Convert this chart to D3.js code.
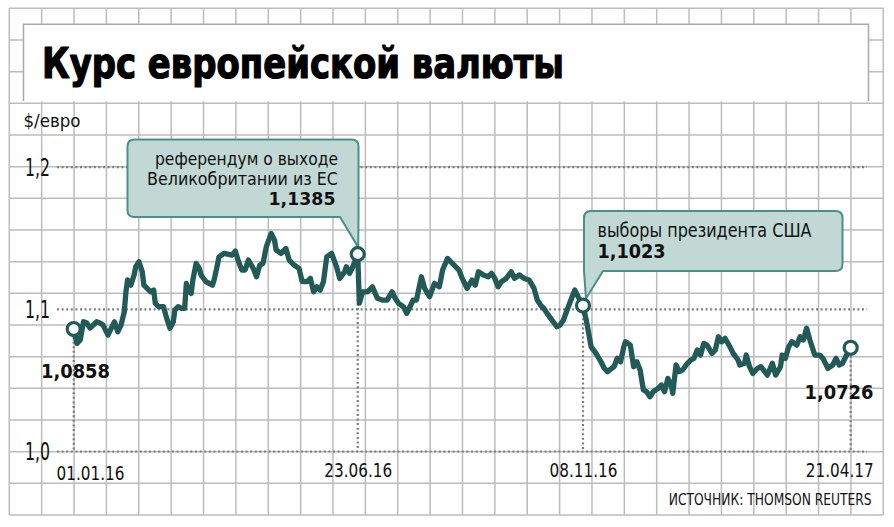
<!DOCTYPE html>
<html><head><meta charset="utf-8">
<script src="https://cdn.jsdelivr.net/npm/d3@7"></script>
<style>
html,body{margin:0;padding:0;background:#fff;}
svg{display:block;}
text{font-family:"Liberation Sans Narrow","DejaVu Sans Condensed","Roboto",sans-serif;}
</style></head>
<body>
<svg id="c" width="894" height="527"></svg>
<script>
// ---- data (days since 01.01.2016, EUR/USD rate) ----
const startDate = "2016-01-01";
const dayOffsets = [
  0,2,4,6,8,10,12,14,16,18,
  21,23,25,27,29,31,32,33,35,37,
  38,40,42,43,45,47,49,50,52,55,
  57,59,61,62,64,66,68,69,70,72,
  73,75,77,78,81,85,86,88,89,92,
  95,97,99,101,103,105,107,110,112,114,
  116,118,121,123,124,127,130,132,135,138,
  140,143,145,147,149,151,153,155,158,161,
  163,166,167,169,171,174,175,177,180,183,
  186,189,192,195,197,199,202,204,206,208,
  210,213,215,218,221,224,226,229,233,236,
  238,241,244,246,248,251,254,256,258,260,
  262,265,268,270,273,276,279,282,284,286,
  288,290,293,296,298,300,303,305,307,309,
  312,314,317,320,323,325,327,331,333,335,
  337,338,341,343,345,347,349,351,353,355,
  358,360,362,364,366,367,369,371,373,376,
  378,380,382,384,386,388,391,393,395,397,
  399,402,404,407,408,411,412,414,416,419,
  421,425,428,430,433,434,436,438,440,443,
  445,447,449,451,454,457,459,462,465,467,
  469,471,474,476];
const rates = [
  1.0858,1.0757,1.0781,1.0909,1.0900,1.0865,1.0886,1.0909,1.0900,1.0886,
  1.0816,1.0863,1.0909,1.0839,1.0886,1.0980,1.1120,1.1203,1.1167,1.1238,
  1.1296,1.1331,1.1261,1.1167,1.1144,1.1120,1.1132,1.1039,1.1015,1.1015,
  1.0933,1.0863,1.0909,1.0992,1.1015,1.1004,1.1004,1.1179,1.1132,1.1109,
  1.1203,1.1320,1.1285,1.1238,1.1191,1.1167,1.1203,1.1308,1.1366,1.1390,
  1.1383,1.1378,1.1406,1.1331,1.1273,1.1273,1.1343,1.1285,1.1226,1.1308,
  1.1320,1.1437,1.1531,1.1484,1.1414,1.1390,1.1425,1.1343,1.1308,1.1285,
  1.1191,1.1191,1.1214,1.1120,1.1155,1.1132,1.1191,1.1366,1.1390,1.1296,
  1.1214,1.1261,1.1296,1.1250,1.1296,1.1385,1.1040,1.1120,1.1120,1.1155,
  1.1074,1.1062,1.1062,1.1120,1.1074,1.1039,1.1015,1.0968,1.1015,1.1062,
  1.1062,1.1226,1.1144,1.1085,1.1179,1.1155,1.1273,1.1355,1.1308,1.1273,
  1.1214,1.1144,1.1203,1.1167,1.1261,1.1238,1.1226,1.1250,1.1214,1.1155,
  1.1191,1.1214,1.1261,1.1214,1.1238,1.1214,1.1203,1.1144,1.1062,1.1027,
  1.1004,1.0968,1.0921,1.0874,1.0886,1.0921,1.1015,1.1074,1.1132,1.1085,
  1.1023,1.0921,1.0733,1.0687,1.0628,1.0582,1.0558,1.0593,1.0652,1.0628,
  1.0733,1.0769,1.0745,1.0593,1.0628,1.0570,1.0429,1.0417,1.0382,1.0417,
  1.0441,1.0464,1.0417,1.0511,1.0464,1.0406,1.0605,1.0558,1.0570,1.0617,
  1.0640,1.0652,1.0710,1.0675,1.0757,1.0745,1.0687,1.0710,1.0804,1.0769,
  1.0793,1.0733,1.0687,1.0640,1.0605,1.0617,1.0675,1.0593,1.0546,1.0582,
  1.0593,1.0534,1.0617,1.0534,1.0593,1.0675,1.0652,1.0733,1.0769,1.0745,
  1.0804,1.0781,1.0863,1.0781,1.0675,1.0675,1.0652,1.0582,1.0605,1.0652,
  1.0605,1.0617,1.0687,1.0726];

const markerDays = [0,174,312,476];
const markerValues = [1.0858,1.1385,1.1023,1.0726];
const markerLabels = ["1,0858","1,1385","1,1023","1,0726"];

const yTicks = [1.0,1.1,1.2];
const yTickLabels = ["1,0","1,1","1,2"];
const dateTicks = ["2016-01-01","2016-06-23","2016-11-08","2017-04-21"];
const dateTickLabels = ["01.01.16","23.06.16","08.11.16","21.04.17"];

const titleText = "Курс европейской валюты";
const unitText = "$/евро";
const sourceText = "ИСТОЧНИК: THOMSON REUTERS";
const brexitLines = ["референдум о выходе","Великобритании из ЕС"];
const electionLines = ["выборы президента США"];

// ---- setup ----
const svg = d3.select("#c");
const parse = d3.timeParse("%Y-%m-%d");
const t0 = parse(startDate);
const data = dayOffsets.map((d,i)=>({date:d3.timeDay.offset(t0,d), v:rates[i]}));
const markers = markerDays.map((d,i)=>({date:d3.timeDay.offset(t0,d), v:markerValues[i]}));

const x = d3.scaleTime().domain([parse(dateTicks[0]), parse(dateTicks[3])]).range([73.7, 850.7]);
const y = d3.scaleLinear().domain([1.0,1.2]).range([451,166.7]);

const teal = "#225a57";
const gridCol = "#bcbcbc";
const dotCol = "#7d7d7d";

// background grid (graph paper)
const gx = d3.range(28).map(i=>9.3 + i*32.37);
const gy = d3.range(17).map(j=>8.3 + j*31.67);
const grid = svg.append("g").attr("stroke",gridCol).attr("stroke-width",1.5);
grid.selectAll("line.v").data(gx).join("line").attr("class","v")
  .attr("x1",d=>d).attr("x2",d=>d).attr("y1",gy[0]).attr("y2",gy[16]);
grid.selectAll("line.h").data(gy).join("line").attr("class","h")
  .attr("y1",d=>d).attr("y2",d=>d).attr("x1",gx[0]).attr("x2",gx[27]);

// title box
svg.append("rect").attr("x",23.5).attr("y",24.3).attr("width",845).attr("height",77).attr("fill","#fff");
svg.append("path").attr("d","M23.5,101 V24.3 H868.5 V101").attr("fill","none").attr("stroke","#a9a9a9").attr("stroke-width",1.5);
svg.append("text").attr("x",42).attr("y",78).attr("font-size",42).attr("font-weight","bold")
  .attr("stroke","#000").attr("stroke-width",1.2).attr("stroke-linejoin","round")
  .attr("textLength",522).attr("lengthAdjust","spacingAndGlyphs").attr("fill","#000").text(titleText);

// unit
svg.append("text").attr("x",23.5).attr("y",126.5).attr("font-size",18)
  .attr("textLength",57).attr("lengthAdjust","spacingAndGlyphs").attr("fill","#111").text(unitText);

// y axis with dotted grid lines
const yAxis = d3.axisLeft(y).tickValues(yTicks).tickFormat((d,i)=>yTickLabels[i])
  .tickSize(-(867-57)).tickPadding(7);
const ya = svg.append("g").attr("transform","translate(57,0)").call(yAxis);
ya.select(".domain").remove();
ya.selectAll(".tick line").attr("stroke",dotCol).attr("stroke-width",2.2).attr("stroke-dasharray","2,2.6");
ya.selectAll(".tick text").attr("font-size",25).attr("fill","#111")
  .attr("font-family","'Liberation Sans Narrow','DejaVu Sans Condensed',sans-serif")
  .attr("textLength",25).attr("lengthAdjust","spacingAndGlyphs").attr("dy","0.34em");

// vertical drop lines
svg.append("g").selectAll("line").data(markers).join("line")
  .attr("x1",d=>x(d.date)).attr("x2",d=>x(d.date))
  .attr("y1",d=>y(d.v)+8).attr("y2",y(1.0))
  .attr("stroke",dotCol).attr("stroke-width",2.2).attr("stroke-dasharray","2,2.6");

// x axis labels
const xAxis = d3.axisBottom(x).tickValues(dateTicks.map(parse)).tickFormat((d,i)=>dateTickLabels[i]).tickSize(0).tickPadding(0);
const xa = svg.append("g").attr("transform","translate(0,451)").call(xAxis);
xa.select(".domain").remove();
const xAnchor = ["start","middle","middle","end"];
const xDx = [-17.7,0,0,22.6];
const xBase = [29,25.5,25.5,25.5];
xa.selectAll(".tick text").each(function(d,i){
  d3.select(this).attr("text-anchor",xAnchor[i]).attr("dx",xDx[i]).attr("y",xBase[i]).attr("dy",0)
   .attr("font-size",20).attr("fill","#111")
   .attr("font-family","'Liberation Sans Narrow','DejaVu Sans Condensed',sans-serif")
   .attr("textLength",68).attr("lengthAdjust","spacingAndGlyphs");
});

// line
const line = d3.line().x(d=>x(d.date)).y(d=>y(d.v)).curve(d3.curveLinear);
svg.append("path").datum(data).attr("d",line).attr("fill","none").attr("stroke",teal)
  .attr("stroke-width",5.3).attr("stroke-linejoin","round").attr("stroke-linecap","round");

// annotation boxes
const boxFill = "#c1d8d5", boxStroke = "#4b8f8a";
function boxTailRight(x0,y0,x1,y1,r,tx,ty,tailL){
  return `M${x0+r},${y0} H${x1-r} Q${x1},${y0} ${x1},${y0+r} V${y1} L${tx},${ty} L${tailL},${y1} H${x0+r} Q${x0},${y1} ${x0},${y1-r} V${y0+r} Q${x0},${y0} ${x0+r},${y0} Z`;
}
function boxTailLeft(x0,y0,x1,y1,r,tx,ty,tailR){
  return `M${x0+r},${y0} H${x1-r} Q${x1},${y0} ${x1},${y0+r} V${y1-r} Q${x1},${y1} ${x1-r},${y1} H${tailR} L${tx},${ty} L${x0},${y1} V${y0+r} Q${x0},${y0} ${x0+r},${y0} Z`;
}
const m1 = markers[1], m2 = markers[2];
svg.append("path").attr("d",boxTailRight(127.5,139.5,358.5,217,7,x(m1.date)+0.5,y(m1.v)-7,340))
  .attr("fill",boxFill).attr("stroke",boxStroke).attr("stroke-width",2).attr("stroke-linejoin","round");
svg.append("path").attr("d",boxTailLeft(584,211,842.5,271,7,x(m2.date)+3,y(m2.v)-7,603))
  .attr("fill",boxFill).attr("stroke",boxStroke).attr("stroke-width",2).attr("stroke-linejoin","round");

// box texts
const bx = svg.append("g").attr("fill","#111");
bx.append("text").attr("x",338).attr("y",164.5).attr("text-anchor","end").attr("font-size",18.5)
  .attr("textLength",183).attr("lengthAdjust","spacingAndGlyphs").text(brexitLines[0]);
bx.append("text").attr("x",338).attr("y",185).attr("text-anchor","end").attr("font-size",18.5)
  .attr("textLength",191).attr("lengthAdjust","spacingAndGlyphs").text(brexitLines[1]);
bx.append("text").attr("x",335.5).attr("y",205).attr("text-anchor","end").attr("font-size",18.5).attr("font-weight","bold")
  .attr("font-family","'DejaVu Sans','Liberation Sans',sans-serif")
  .attr("textLength",67).attr("lengthAdjust","spacingAndGlyphs").text(markerLabels[1]);
bx.append("text").attr("x",597.5).attr("y",236.7).attr("font-size",19)
  .attr("textLength",214).attr("lengthAdjust","spacingAndGlyphs").text(electionLines[0]);
bx.append("text").attr("x",597.5).attr("y",258.3).attr("font-size",19).attr("font-weight","bold")
  .attr("font-family","'DejaVu Sans','Liberation Sans',sans-serif")
  .attr("textLength",68).attr("lengthAdjust","spacingAndGlyphs").text(markerLabels[2]);

// end value labels
svg.append("text").attr("x",41).attr("y",377.5).attr("font-size",19.5).attr("font-weight","bold").attr("fill","#111")
  .attr("font-family","'DejaVu Sans','Liberation Sans',sans-serif")
  .attr("textLength",69).attr("lengthAdjust","spacingAndGlyphs").text(markerLabels[0]);
svg.append("text").attr("x",873.5).attr("y",399).attr("text-anchor","end").attr("font-size",19.5).attr("font-weight","bold").attr("fill","#111")
  .attr("font-family","'DejaVu Sans','Liberation Sans',sans-serif")
  .attr("textLength",69).attr("lengthAdjust","spacingAndGlyphs").text(markerLabels[3]);

// marker circles
svg.append("g").selectAll("circle").data(markers).join("circle")
  .attr("cx",d=>x(d.date)).attr("cy",d=>y(d.v)).attr("r",6.5)
  .attr("fill","#fff").attr("stroke",teal).attr("stroke-width",3.2);

// source
svg.append("text").attr("x",871.7).attr("y",504.5).attr("text-anchor","end").attr("font-size",15).attr("fill","#111")
  .attr("textLength",203).attr("lengthAdjust","spacingAndGlyphs").text(sourceText);
</script>
</body></html>
